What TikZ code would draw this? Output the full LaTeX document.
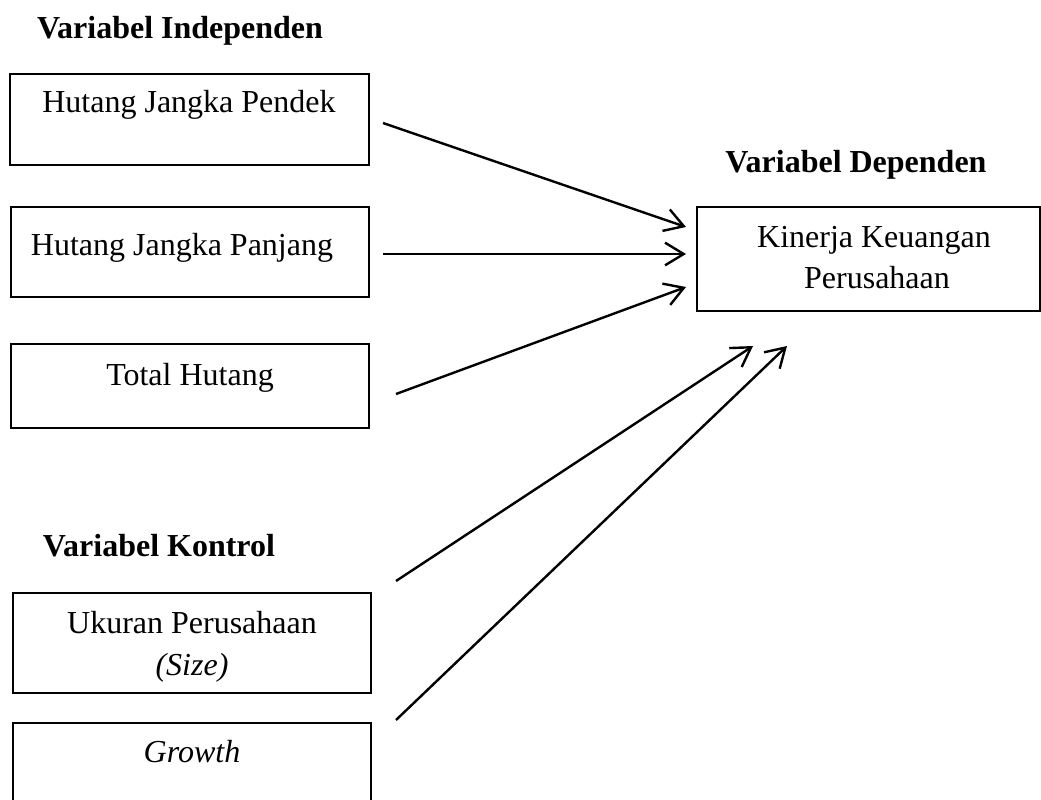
\documentclass[tikz,border=0pt]{standalone}
\usepackage{fontspec}
\setmainfont{Liberation Serif}
\usetikzlibrary{arrows.meta}
\begin{document}
\begin{tikzpicture}[x=0.75pt,y=-0.75pt,
  box/.style={draw=black,line width=1.1pt,rectangle,inner sep=0pt},
  txt/.style={anchor=base,inner sep=0pt,font=\fontsize{24}{30}\selectfont},
  ttl/.style={anchor=base,inner sep=0pt,font=\fontsize{24}{30}\selectfont\bfseries},
  arr/.style={line width=1.8pt,-{Straight Barb[length=14pt,width=17pt,line width=1.8pt]}}]
\clip (0,0) rectangle (1041,799);
\fill[white] (0,0) rectangle (1041,799);
% titles
\node[ttl] (tind) at (180,39) {Variabel Independen};
\node[ttl] (tdep) at (856,172) {Variabel Dependen};
\node[ttl] (tkon) at (159,556) {Variabel Kontrol};
% boxes
\node[box,minimum width=359*0.75pt,minimum height=91*0.75pt] (b1) at (189.5,119.5) {};
\node[box,minimum width=358*0.75pt,minimum height=90*0.75pt] (b2) at (190,252) {};
\node[box,minimum width=358*0.75pt,minimum height=84*0.75pt] (b3) at (190,386) {};
\node[box,minimum width=358*0.75pt,minimum height=100*0.75pt] (b4) at (192,643) {};
\node[box,minimum width=358*0.75pt,minimum height=110*0.75pt] (b5) at (192,778) {};
\node[box,minimum width=343*0.75pt,minimum height=104*0.75pt] (dep) at (868.5,259) {};
% box texts
\node[txt] (t1) at (189,113) {Hutang Jangka Pendek};
\node[txt] (t2) at (182,255) {Hutang Jangka Panjang};
\node[txt] (t3) at (190,385) {Total Hutang};
\node[txt] (t4a) at (192,633) {Ukuran Perusahaan};
\node[txt] (t4b) at (192,675) {\itshape (Size)};
\node[txt] (t5) at (192,762) {\itshape Growth};
\node[txt] (td1) at (874,247) {Kinerja Keuangan};
\node[txt] (td2) at (877,288) {Perusahaan};
% connector end points
\coordinate (s1) at (383,123);
\coordinate (e1) at (686,227);
\coordinate (s2) at (383,254);
\coordinate (e2) at (686,254);
\coordinate (s3) at (396,394);
\coordinate (e3) at (686,287);
\coordinate (s4) at (396,581);
\coordinate (e4) at (753,346);
\coordinate (s5) at (396,720);
\coordinate (e5) at (787,346);
\draw[arr] (s1) -- (e1);
\draw[arr] (s2) -- (e2);
\draw[arr] (s3) -- (e3);
\draw[arr] (s4) -- (e4);
\draw[arr] (s5) -- (e5);
\end{tikzpicture}
\end{document}
